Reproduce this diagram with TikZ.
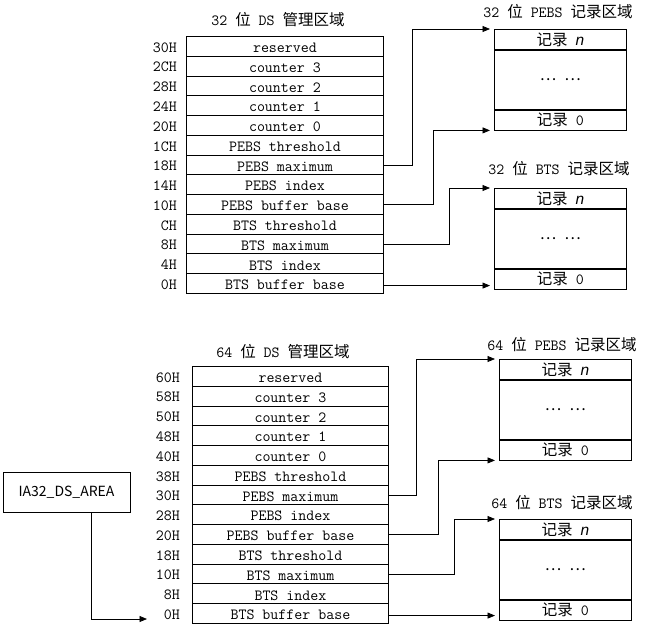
\documentclass[tikz,border=0pt]{standalone}
\usepackage{fontspec}
\newfontfamily\cjk{Noto Sans CJK SC}
\newfontfamily\lsans{Liberation Sans}
\usetikzlibrary{arrows.meta}
\newcommand\wei{{\cjk 位}}
\begin{document}
\begin{tikzpicture}[x=1pt,y=-1pt,
  txt/.style={font=\fontsize{15.5}{18}\selectfont\ttfamily, inner sep=0pt},
  row/.style={txt, draw, line width=0.9pt, minimum width=#1, minimum height=19.77pt, anchor=north west, text height=12.5pt, text depth=0pt},
  lab/.style={txt, anchor=east, text height=12.5pt, text depth=0pt},
  ttl/.style={txt},
  rec/.style={txt, draw, line width=0.8pt, minimum width=132pt, anchor=north west},
  iabox/.style={draw, line width=0.8pt, minimum width=127pt, minimum height=40pt, inner sep=0pt, font=\fontsize{14}{16}\selectfont\cjk},
  arr/.style={line width=0.8pt, -{Triangle[length=7.5pt,width=6pt]}, shorten >=4pt}
]
\useasboundingbox (0,0) rectangle (646,627);

% ---- 32-bit DS area
\node[ttl] (t1title) at (278,19.5) {32\ \wei\ DS\ {\cjk 管理区域}};
\foreach \t [count=\i from 0] in {reserved,counter 3,counter 2,counter 1,counter 0,PEBS threshold,PEBS maximum,PEBS index,PEBS buffer base,BTS threshold,BTS maximum,BTS index,BTS buffer base}
  \node[row=197pt] (t1r\i) at (186,36+\i*19.77) {\t};
\foreach \o [count=\i from 0] in {30H,2CH,28H,24H,20H,1CH,18H,14H,10H,CH,8H,4H,0H}
  \node[lab] (t1l\i) at (177,36+\i*19.77+9.9) {\o};

% ---- 32-bit PEBS records
\node[ttl] (p1title) at (558,12) {32\ \wei\ PEBS\ {\cjk 记录区域}};
\node[rec, minimum height=20pt] (p1n) at (494,29) {{\cjk 记录}\ {\lsans\itshape n}};
\node[rec, minimum height=59pt] (p1m) at (p1n.south west) {{\cjk …}\ {\cjk …}};
\node[rec, minimum height=20pt] (p1z) at (p1m.south west) {{\cjk 记录}\ 0};

% ---- 32-bit BTS records
\node[ttl] (b1title) at (559,169) {32\ \wei\ BTS\ {\cjk 记录区域}};
\node[rec, minimum height=20pt] (b1n) at (494,188) {{\cjk 记录}\ {\lsans\itshape n}};
\node[rec, minimum height=59pt] (b1m) at (b1n.south west) {{\cjk …}\ {\cjk …}};
\node[rec, minimum height=20pt] (b1z) at (b1m.south west) {{\cjk 记录}\ 0};

\draw[arr] (t1r6.east) -- ++(28,0) |- (p1n.north west);
\draw[arr] (t1r8.east) -- ++(49,0) |- (p1z.south west);
\draw[arr] (t1r10.east) -- ++(65,0) |- (b1n.north west);
\draw[arr] ([yshift=-2pt]t1r12.east) -- ([yshift=-2pt]t1r12.east -| b1z.west);

% ---- 64-bit DS area
\node[ttl] (t2title) at (283,352) {64\ \wei\ DS\ {\cjk 管理区域}};
\foreach \t [count=\i from 0] in {reserved,counter 3,counter 2,counter 1,counter 0,PEBS threshold,PEBS maximum,PEBS index,PEBS buffer base,BTS threshold,BTS maximum,BTS index,BTS buffer base}
  \node[row=196pt] (t2r\i) at (192,366+\i*19.77) {\t};
\foreach \o [count=\i from 0] in {60H,58H,50H,48H,40H,38H,30H,28H,20H,18H,10H,8H,0H}
  \node[lab] (t2l\i) at (180,366+\i*19.77+9.9) {\o};

% ---- 64-bit PEBS records
\node[ttl] (p2title) at (562,345) {64\ \wei\ PEBS\ {\cjk 记录区域}};
\node[rec, minimum height=20pt] (p2n) at (499,359) {{\cjk 记录}\ {\lsans\itshape n}};
\node[rec, minimum height=59pt] (p2m) at (p2n.south west) {{\cjk …}\ {\cjk …}};
\node[rec, minimum height=20pt] (p2z) at (p2m.south west) {{\cjk 记录}\ 0};

% ---- 64-bit BTS records
\node[ttl] (b2title) at (562,503) {64\ \wei\ BTS\ {\cjk 记录区域}};
\node[rec, minimum height=20pt] (b2n) at (499,519) {{\cjk 记录}\ {\lsans\itshape n}};
\node[rec, minimum height=59pt] (b2m) at (b2n.south west) {{\cjk …}\ {\cjk …}};
\node[rec, minimum height=20pt] (b2z) at (b2m.south west) {{\cjk 记录}\ 0};

\draw[arr] (t2r6.east) -- ++(27,0) |- (p2n.north west);
\draw[arr] (t2r8.east) -- ++(49,0) |- (p2z.south west);
\draw[arr] (t2r10.east) -- ++(65,0) |- (b2n.north west);
\draw[arr] ([yshift=-2pt]t2r12.east) -- ([yshift=-2pt]t2r12.east -| b2z.west);

% ---- IA32_DS_AREA
\node[iabox] (ia) at (66.5,492) {IA32\_DS\_AREA};
\coordinate (iaend) at (151,619);
\draw[arr] ([xshift=24.5pt]ia.south) |- (iaend);
\end{tikzpicture}
\end{document}
